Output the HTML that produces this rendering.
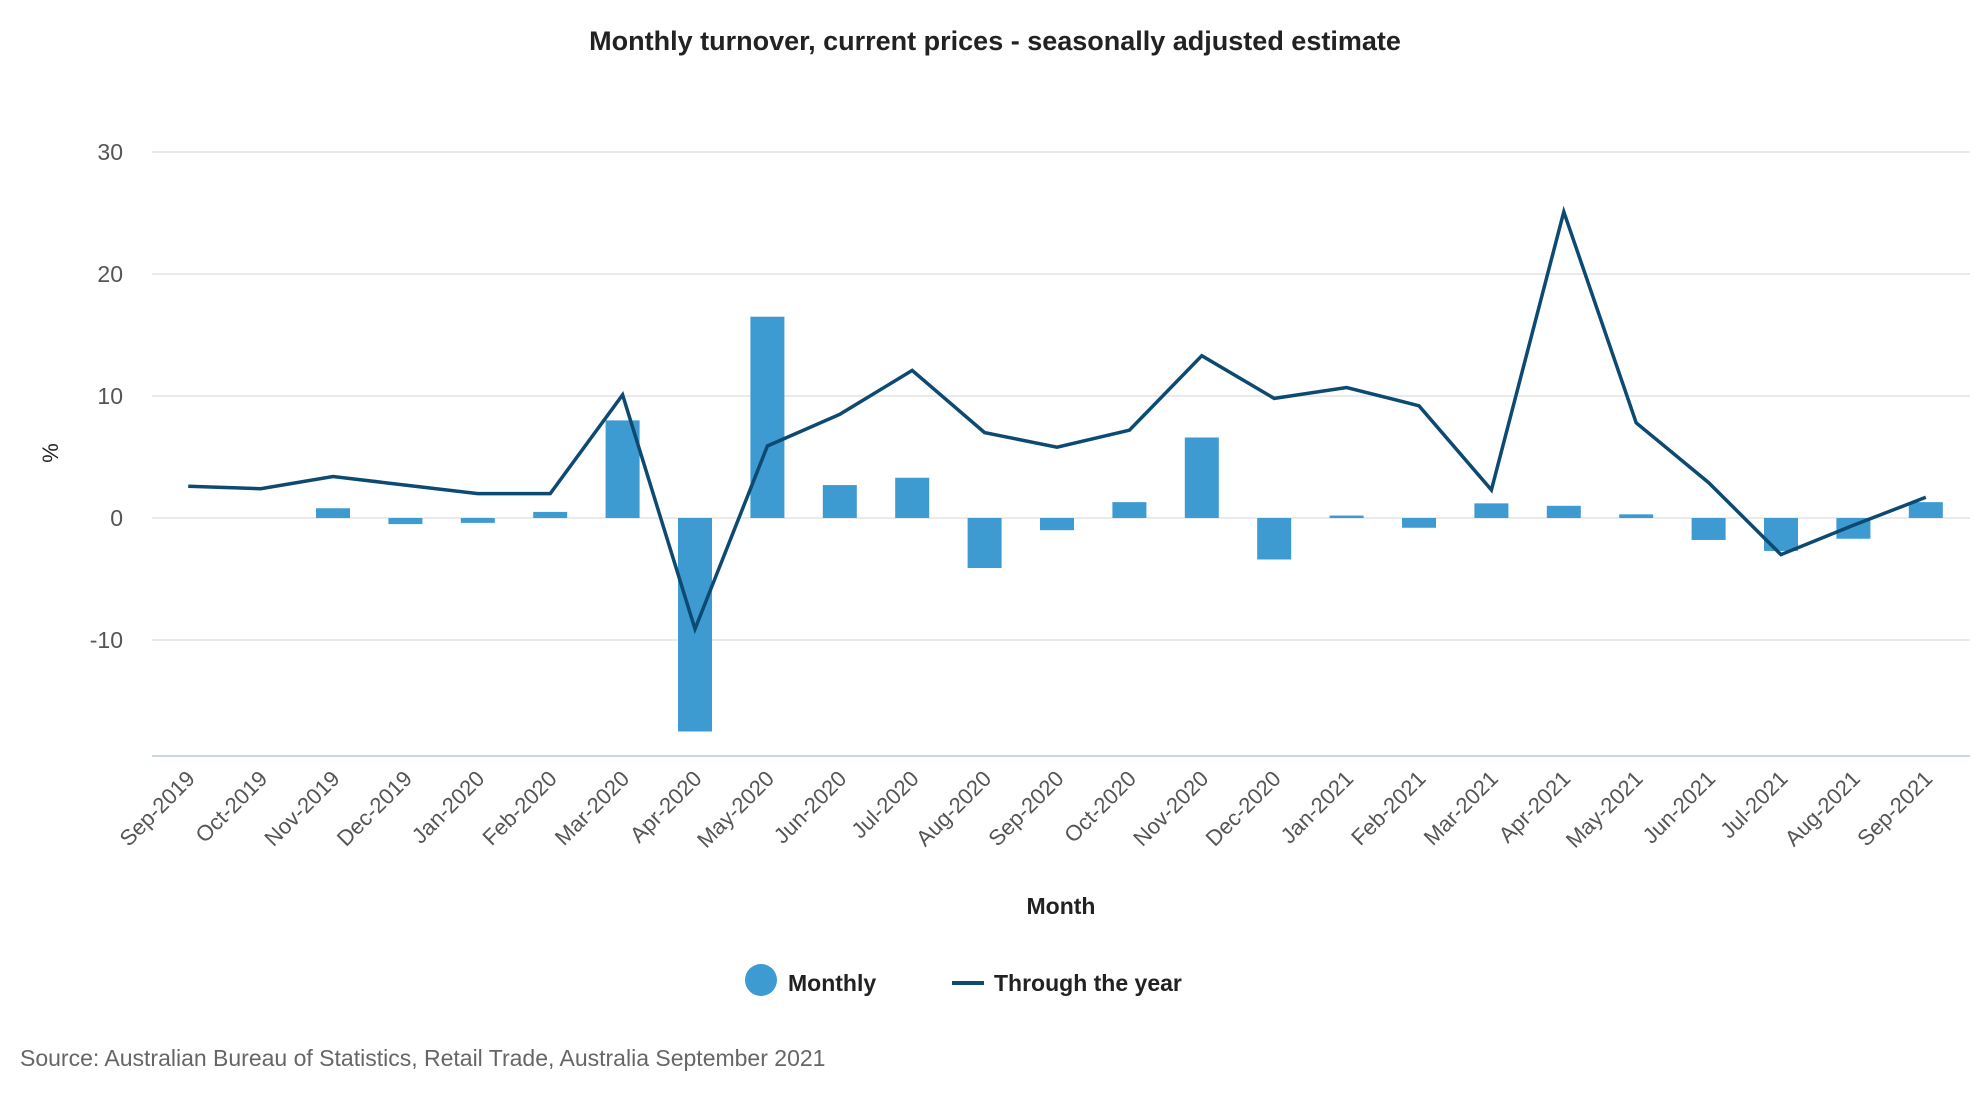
<!DOCTYPE html>
<html><head><meta charset="utf-8">
<style>
html,body{margin:0;padding:0;background:#fff;}
svg{display:block;font-family:"Segoe UI","Liberation Sans",sans-serif;}
</style></head>
<body>
<svg id="chart" width="1980" height="1100" viewBox="0 0 1980 1100">
<text x="995" y="50" text-anchor="middle" font-size="27" font-weight="600" fill="#222">Monthly turnover, current prices - seasonally adjusted estimate</text>
<g id="grid"></g>
<g id="bars"></g>
<g id="line"></g>
<g id="xlabels"></g>
<text transform="translate(58,453) rotate(-90)" text-anchor="middle" font-size="22" fill="#222">%</text>
<text x="1061" y="914" text-anchor="middle" font-size="23" font-weight="600" fill="#222">Month</text>
<g>
<g>
<circle cx="761" cy="980" r="16" fill="#3d9bd1"/>
<text x="788" y="991" font-size="23" font-weight="600" fill="#222">Monthly</text>
</g>
<g>
<line x1="952" y1="983" x2="984" y2="983" stroke="#0d4a72" stroke-width="4"/>
<text x="994" y="991" font-size="23" font-weight="600" fill="#222">Through the year</text>
</g>
</g>
<text x="20" y="1066" font-size="23" fill="#666">Source: Australian Bureau of Statistics, Retail Trade, Australia September 2021</text>
</svg>
<script>
const categories = ["Sep-2019","Oct-2019","Nov-2019","Dec-2019","Jan-2020","Feb-2020","Mar-2020","Apr-2020","May-2020","Jun-2020","Jul-2020","Aug-2020","Sep-2020","Oct-2020","Nov-2020","Dec-2020","Jan-2021","Feb-2021","Mar-2021","Apr-2021","May-2021","Jun-2021","Jul-2021","Aug-2021","Sep-2021"];
const monthly = [0,0,0.8,-0.5,-0.4,0.5,8.0,-17.5,16.5,2.7,3.3,-4.1,-1.0,1.3,6.6,-3.4,0.2,-0.8,1.2,1.0,0.3,-1.8,-2.7,-1.7,1.3];
const throughYear = [2.6,2.4,3.4,2.7,2.0,2.0,10.1,-9.1,5.9,8.5,12.1,7.0,5.8,7.2,13.3,9.8,10.7,9.2,2.3,25.1,7.8,2.9,-3.0,-0.6,1.7];
const yTicks = [30,20,10,0,-10];

const NS = "http://www.w3.org/2000/svg";
const left = 152, right = 1962, y0px = 518, pxPer = 12.2, axisBottom = 756;
const band = (right - left) / categories.length;
function x(i){ return left + band * (i + 0.5); }
function y(v){ return y0px - v * pxPer; }
function mk(tag, attrs, parent){
  const el = document.createElementNS(NS, tag);
  for (const k in attrs) el.setAttribute(k, attrs[k]);
  parent.appendChild(el);
  return el;
}
const grid = document.getElementById('grid');
yTicks.forEach(t => {
  const l = mk('line', {x1:left, x2:1970, y1:y(t), y2:y(t), stroke:'#e3e3e3', 'stroke-width':1.5}, grid);
  
  
  const tx = mk('text', {x:123, y:y(t)+8, 'text-anchor':'end', 'font-size':23, fill:'#555'}, grid);
  tx.textContent = t;
  
  
});
const ax = mk('line', {x1:left, x2:1970, y1:axisBottom, y2:axisBottom, stroke:'#c8d6e8', 'stroke-width':2}, grid);



const bars = document.getElementById('bars');
const bw = 34;
monthly.forEach((v, i) => {
  const top = Math.min(y(v), y(0)), h = Math.abs(y(v) - y(0));
  const r = mk('rect', {x:x(i)-bw/2, y:top, width:bw, height:Math.max(h,0.01), fill:'#3d9bd1'}, bars);
  
  
});

const lg = document.getElementById('line');
const pts = throughYear.map((v, i) => x(i).toFixed(1) + ',' + y(v).toFixed(1)).join(' ');
const pl = mk('polyline', {points:pts, fill:'none', stroke:'#0d4a72', 'stroke-width':3.5, 'stroke-linejoin':'miter'}, lg);



const xl = document.getElementById('xlabels');
categories.forEach((c, i) => {
  const t = mk('text', {transform:'translate(' + (x(i)+8) + ',' + 780 + ') rotate(-45)', 'text-anchor':'end', 'font-size':22, fill:'#555'}, xl);
  t.textContent = c;
  
  
});
</script>
</body></html>
